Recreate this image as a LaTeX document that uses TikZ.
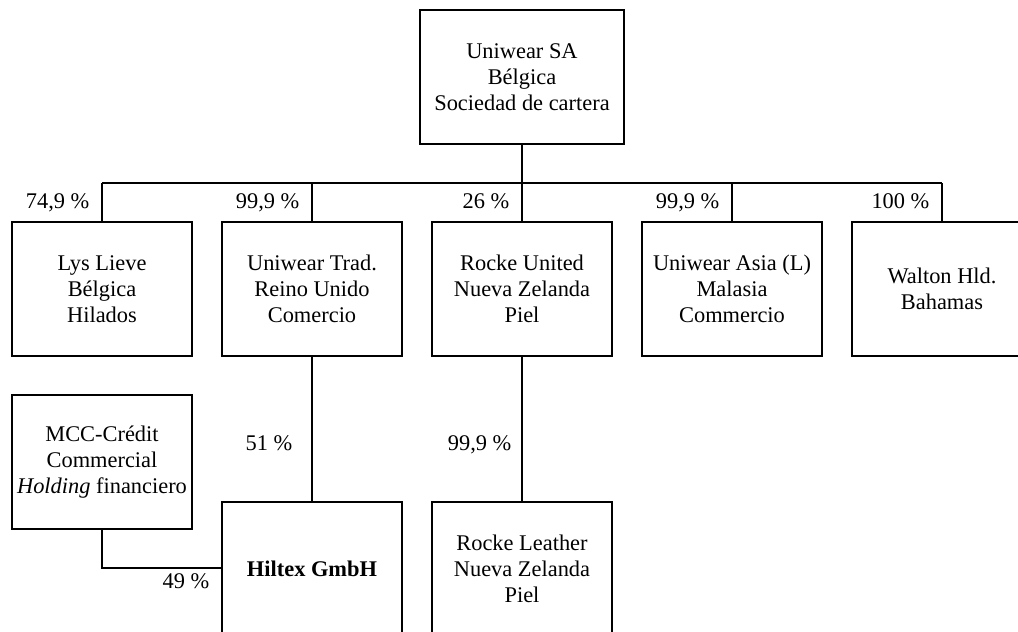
\documentclass[tikz,border=0pt]{standalone}
\usepackage{fontspec}
\setmainfont{Liberation Serif}
\newcommand{\pct}[1]{#1 \%}

\begin{document}
\begin{tikzpicture}[x=0.5pt, y=-0.5pt, line width=0.6pt]
        \tikzstyle{firm}=[draw, fill=white, shape=rectangle, align=center, inner sep=2pt,
                          minimum width=90pt, minimum height=67pt,
                          font=\fontsize{11.2}{13}\selectfont];
        \tikzstyle{share}=[anchor=base east, inner sep=0pt, font=\fontsize{11.2}{13}\selectfont];
        \tikzstyle{link}=[line width=0.65pt, color=black];

        \useasboundingbox (0, 0) rectangle (1018, 632);
        \clip (0, 0) rectangle (1018, 632);

        % holding
        \node[firm, minimum width=102pt] (top) at (522, 77) {Uniwear SA\\Bélgica\\Sociedad de cartera};
        \coordinate (bus) at (522, 183);
        \draw[link] (top.south) -- (bus);
        \draw[link] (102, 183) -- (942, 183);

        % first level
        \foreach \n/\x/\p/\t in {
            lys/102/{74,9}/{Lys Lieve\\Bélgica\\Hilados},
            trad/312/{99,9}/{Uniwear Trad.\\Reino Unido\\Comercio},
            rocke/522/{26}/{Rocke United\\Nueva Zelanda\\Piel},
            asia/732/{99,9}/{Uniwear Asia (L)\\Malasia\\Commercio},
            walton/942/{100}/{Walton Hld.\\Bahamas}}{
          \node[firm] at (\x, 289) (\n) {\t};
          \coordinate (\n top) at (\x, 183);
          \draw[link] (\n top) -- (\n.north);
          \node[share] at (\x-12, 208) (\n pct) {\pct{\p}};
        }

        % second level
        \node[firm] (mcc) at (102, 462) {MCC-Crédit\\Commercial\\\textit{Holding} financiero};
        \node[firm] (hiltex) at (312, 569) {\textbf{Hiltex GmbH}};
        \node[firm] (leather) at (522, 569) {Rocke Leather\\Nueva Zelanda\\Piel};

        \draw[link] (trad.south) -- (hiltex.north);
        \node[share] at (293, 450) (trad51) {\pct{51}};
        \draw[link] (rocke.south) -- (leather.north);
        \node[share] at (512, 450) (rocke999) {\pct{99,9}};
        \draw[link] (mcc.south) |- (hiltex.west |- 0, 568);
        \node[share] at (210, 588) (mcc49) {\pct{49}};
\end{tikzpicture}
\end{document}
